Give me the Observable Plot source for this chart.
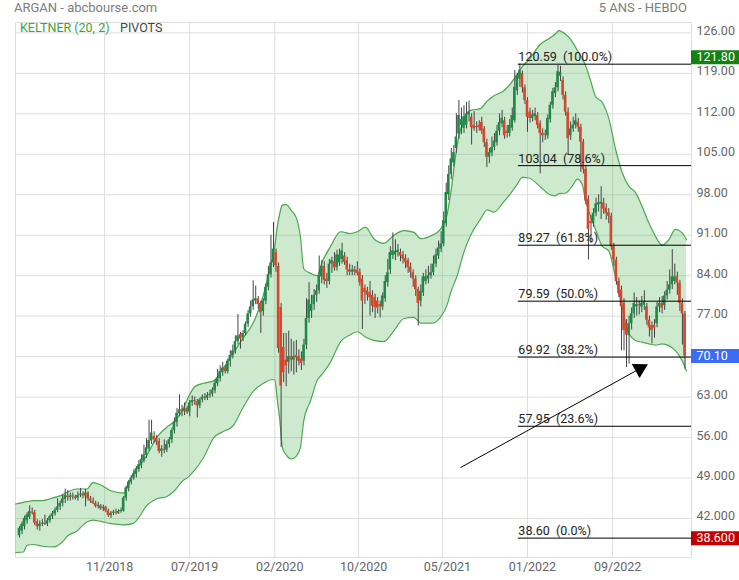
<!DOCTYPE html>
<html><head><meta charset="utf-8">
<script src="https://cdn.jsdelivr.net/npm/d3@7"></script>
<script src="https://cdn.jsdelivr.net/npm/@observablehq/plot@0.6"></script>
<style>
body{margin:0;background:#fff;font-family:Roboto,sans-serif;}
#wrap{position:relative;width:739px;height:580px;overflow:hidden;}
#chart{position:absolute;left:0;top:0;}
.t{position:absolute;white-space:nowrap;font-family:Roboto,sans-serif;}
</style></head><body>
<div id="wrap">
<div id="chart"></div>
<div class="t" style="left:14px;top:0px;font-size:13px;line-height:16px;color:#7d7d7d;">ARGAN - abcbourse.com</div>
<div class="t" style="right:52px;top:0px;font-size:13px;line-height:16px;color:#7d7d7d;">5 ANS - HEBDO</div>
<div class="t" style="left:20px;top:21px;font-size:12.5px;line-height:14px;color:#3aa53a;">KELTNER (20, 2)</div>
<div class="t" style="left:120px;top:21px;font-size:12.5px;line-height:14px;color:#444;">PIVOTS</div>
</div>
<script>
// weekly candles, index 0..262
const open = [
39.0,39.8,40.6,41.6,42.2,43.0,43.0,41.4,40.6,41.0,
41.2,41.0,41.6,42.3,42.8,43.4,44.0,44.6,45.3,45.9,
45.6,45.9,45.7,45.5,46.0,46.2,45.9,46.4,45.4,45.0,
44.6,44.1,44.2,43.7,43.9,43.3,42.5,42.9,43.1,42.9,
43.2,43.3,45.5,47.2,48.3,49.0,49.6,50.5,51.2,52.0,
52.9,54.0,55.4,56.2,55.8,55.3,53.6,54.0,53.8,54.8,
55.6,57.2,58.6,60.1,60.8,60.5,61.0,60.4,62.0,62.4,
62.2,61.5,62.5,62.9,62.8,63.3,63.5,64.1,65.3,66.2,
67.3,68.0,67.4,69.2,70.2,71.0,72.6,73.8,73.2,74.0,
75.6,77.4,78.6,79.6,80.0,79.2,77.8,79.6,82.0,84.2,
86.2,88.0,85.6,78.5,71.6,69.4,69.0,70.0,69.4,70.2,
70.0,69.6,69.2,72.0,76.6,77.8,79.0,80.6,81.4,83.8,
85.6,83.4,83.0,86.0,86.4,85.4,86.2,86.8,87.4,86.6,
85.0,84.6,85.0,85.0,84.6,83.4,81.8,81.4,81.1,80.6,
80.2,79.6,79.0,78.6,80.0,82.8,85.0,87.5,87.6,88.0,
88.0,87.6,87.0,86.6,85.5,84.5,83.4,81.6,79.6,81.0,
83.0,83.4,84.0,84.5,86.0,87.4,88.6,89.5,93.0,98.0,
101.5,103.5,106.0,108.5,110.0,109.5,110.0,111.8,111.4,110.0,
109.8,110.0,110.5,109.4,107.0,104.5,105.2,106.2,107.0,109.0,
110.3,110.8,109.0,108.6,109.5,110.8,116.0,118.0,119.0,116.5,
114.3,112.3,111.2,111.5,111.7,110.3,108.6,108.5,108.2,111.0,
113.5,115.5,116.5,118.5,117.8,115.2,112.3,108.2,109.4,110.0,
110.5,109.7,107.1,102.4,97.2,93.4,93.0,94.8,96.2,96.4,
96.6,95.7,94.9,94.3,89.0,86.7,83.0,81.5,79.2,75.7,
73.7,75.7,77.4,78.6,79.0,78.6,78.9,78.6,76.3,75.4,
75.4,75.7,78.6,79.2,78.8,80.5,81.5,82.4,83.0,83.8,
82.7,79.2,77.4];
const high = [
40.6,41.4,42.4,43.0,44.2,43.8,43.4,41.8,41.6,41.8,
42.6,42.0,42.6,43.2,43.8,45.4,45.0,46.0,47.1,46.8,
46.4,46.4,46.0,46.6,47.2,46.6,47.0,46.6,45.8,45.6,
45.0,44.8,44.4,44.3,44.1,43.6,43.2,43.4,43.6,43.5,
43.8,45.8,47.6,48.6,49.4,50.4,51.0,52.0,53.0,54.7,
55.8,59.0,59.0,57.0,56.4,55.8,54.6,55.6,55.4,56.0,
57.6,59.4,61.0,63.4,61.6,62.0,61.4,62.4,63.2,63.0,
62.6,62.8,63.4,63.6,63.8,64.2,64.6,66.0,67.8,68.4,
69.0,68.4,69.6,71.0,72.0,73.6,77.3,74.2,74.5,76.0,
78.0,79.6,83.1,82.2,80.4,79.6,80.0,82.6,85.6,91.0,
93.2,88.6,86.2,79.2,74.0,74.0,74.4,73.0,72.6,72.8,
71.2,70.8,73.0,80.0,82.8,80.6,81.6,82.4,87.4,86.6,
86.4,84.4,86.8,87.2,88.0,88.4,88.6,89.6,88.0,87.2,
86.0,85.8,85.6,86.4,85.2,84.0,82.4,82.0,83.0,81.4,
80.8,80.2,79.6,81.0,84.0,86.8,89.0,91.4,90.2,89.4,
88.6,88.2,87.6,87.0,86.2,85.0,84.0,82.0,82.4,84.4,
85.0,85.6,86.0,87.4,88.6,90.0,91.6,95.0,100.0,103.0,
106.0,106.5,112.0,114.3,113.0,113.4,114.0,114.2,112.0,112.4,
110.6,110.8,111.4,109.8,107.6,106.0,108.0,108.6,110.0,112.0,
112.6,111.4,110.0,111.0,113.0,119.5,119.0,120.59,119.4,117.0,
114.8,113.0,112.6,113.0,112.2,110.8,109.4,109.2,111.8,114.0,
116.4,117.4,120.4,120.2,118.4,115.8,113.0,110.6,111.4,112.0,
111.2,110.2,107.6,103.0,97.8,94.4,95.6,97.4,98.0,99.4,
97.4,96.4,95.6,94.8,89.6,87.2,83.6,82.2,80.0,76.4,
77.0,78.4,81.0,80.2,79.6,80.4,81.4,79.2,77.0,76.0,
76.4,79.4,80.2,80.4,81.2,83.0,85.0,88.5,86.0,84.6,
83.2,80.0,77.8];
const low = [
38.6,39.2,40.0,41.0,41.8,42.6,40.8,40.0,39.8,40.6,
40.8,40.6,41.2,41.8,42.4,43.0,43.4,44.0,44.6,45.0,
45.0,45.2,45.2,45.0,45.6,45.4,44.0,45.0,44.6,44.4,
43.8,43.6,43.4,43.2,43.0,42.2,42.0,42.5,42.6,42.7,
42.9,43.1,45.0,46.6,47.8,48.6,49.0,50.0,50.6,51.6,
52.4,53.6,54.8,55.0,54.6,53.2,52.6,53.2,53.4,54.2,
55.0,56.6,57.8,59.6,59.6,59.8,60.0,59.6,61.4,61.6,
59.4,61.0,62.0,62.4,62.4,62.8,63.0,63.6,64.8,65.6,
66.6,67.0,67.0,68.2,69.6,70.4,72.0,71.3,72.6,73.6,
75.0,76.8,78.0,79.0,78.2,74.0,77.0,79.0,81.4,83.6,
85.4,84.6,70.6,54.3,65.5,64.8,67.0,67.4,66.8,67.2,
68.4,67.6,68.4,71.2,75.8,76.6,78.0,79.4,80.8,82.6,
82.4,81.8,82.4,84.4,84.8,84.8,85.6,86.0,85.8,84.0,
84.0,84.0,84.0,84.0,82.2,74.7,79.0,79.6,77.0,77.6,
76.6,77.4,76.7,78.0,79.4,82.0,84.2,86.8,86.6,87.2,
86.4,86.0,85.2,84.4,83.6,82.0,80.4,75.3,78.6,80.4,
82.4,82.6,83.4,84.0,85.4,86.8,88.0,89.0,92.4,97.0,
100.6,102.8,105.2,107.6,108.4,108.6,109.4,110.6,106.6,109.0,
108.6,109.0,108.4,106.2,102.7,103.4,104.6,105.6,106.4,108.2,
109.6,107.6,107.8,108.0,109.0,110.4,115.2,116.6,115.6,113.6,
108.8,110.4,110.6,110.8,109.4,101.6,107.0,107.4,107.6,110.4,
112.8,114.8,115.8,117.6,114.4,111.6,104.8,107.4,108.8,109.4,
108.8,101.9,101.6,96.2,86.7,89.6,92.4,94.2,95.0,93.7,
94.6,93.6,93.0,88.4,85.6,82.4,80.2,71.0,71.0,68.1,
68.7,74.6,76.6,77.0,77.2,77.6,78.0,75.4,73.4,72.2,
73.2,75.0,77.6,77.4,78.0,79.8,80.8,81.6,82.4,80.6,
77.8,72.0,67.8];
const close = [
40.3,41.0,42.0,42.6,43.2,42.9,41.2,40.6,41.0,41.2,
41.0,41.6,42.3,42.8,43.4,44.0,44.6,45.4,46.0,45.6,
45.9,45.7,45.5,46.0,46.2,45.9,46.4,45.4,45.0,44.6,
44.1,44.2,43.7,43.9,43.3,42.5,42.9,43.1,42.9,43.2,
43.3,45.5,47.3,48.3,49.0,49.7,50.6,51.3,52.2,53.0,
54.2,55.5,56.8,55.6,55.2,53.6,54.0,53.8,54.8,55.6,
57.2,58.7,60.2,60.8,60.5,61.0,60.4,62.0,62.4,62.2,
61.5,62.5,63.0,62.8,63.3,63.5,64.2,65.4,66.3,67.4,
68.0,67.4,69.2,70.2,71.0,72.6,73.6,73.0,74.0,75.6,
77.4,78.6,79.8,80.0,79.0,77.6,79.6,82.0,84.2,86.2,
88.6,85.7,71.4,64.9,67.2,68.4,70.0,69.4,70.0,69.8,
69.2,68.8,72.0,76.6,79.8,79.0,80.6,81.4,84.0,85.6,
83.2,83.0,86.0,86.6,85.4,87.6,87.6,88.3,86.3,85.0,
84.6,85.0,84.6,84.4,82.8,79.6,81.1,80.6,80.2,78.7,
78.5,78.4,78.6,80.5,83.0,84.5,88.0,88.3,88.2,88.4,
87.4,86.9,86.3,85.4,84.6,83.4,81.6,79.2,81.3,83.8,
83.8,84.0,84.5,86.0,87.6,88.8,89.5,93.5,98.4,101.5,
104.2,105.3,108.0,111.7,111.0,111.5,112.0,112.3,109.6,109.4,
109.6,109.6,109.0,107.0,104.5,105.3,106.2,107.3,109.0,110.5,
111.2,108.2,108.6,110.0,111.7,116.6,118.5,119.5,116.5,114.3,
111.4,111.2,111.8,112.0,110.0,108.6,108.2,108.3,111.2,113.5,
115.8,116.5,119.3,119.2,115.2,112.3,107.7,109.4,110.0,110.8,
109.7,107.1,102.4,96.9,92.0,93.0,94.8,96.4,96.6,96.7,
95.5,94.8,94.3,89.0,86.7,83.0,80.9,78.6,74.5,73.7,
75.7,77.4,79.2,79.0,78.8,79.2,79.4,76.3,75.0,74.5,
74.9,78.6,79.2,78.4,80.5,81.5,82.4,83.8,83.8,82.7,
79.2,77.4,70.1];

// Keltner (20, 2) channel, read at bar positions
const bandIdx = [-1.5,1.5,3,5.5,9,13.5,16.5,19,22.5,26.5,29,32,36,41,44.5,47,50,54,58,61,64,66.5,69,72.5,76.5,80,84,88,92,96.5,99,100.5,101.5,102.5,103.5,105,107,109,110.6,111.9,114.6,117.2,119.2,122.4,126.4,130.3,133,136.2,139.5,143.4,147.4,151.3,155.3,157.9,162.5,165.7,168.4,169.7,172.3,174.9,177.6,181.5,184.1,186.7,190.7,193.3,195.9,198,200.5,205,208.4,211,212.3,214.9,217.6,219.6,221.5,222.8,224.8,226.8,229.4,232,234.6,237.3,239.9,242.5,245.1,247.8,250.4,253,255.6,258.3,260.9,262.6];
const bandUpper = [44.5,44.8,44.9,45.1,45.1,45.6,46.0,46.6,47.1,47.1,48.2,47.8,46.8,46.4,49.5,51.0,52.8,56.0,57.8,58.8,60.6,63.0,64.8,65.4,65.8,67.8,70.5,73.2,75.8,81.4,86.0,89.0,92.5,94.8,96.2,96.3,95.3,94.0,90.7,85.2,84.4,84.0,86.4,89.0,91.6,91.3,91.6,92.4,90.4,89.6,91.0,91.8,91.5,90.4,91.0,92.0,94.7,98.0,106.5,111.0,112.6,112.9,114.2,115.1,116.0,117.2,118.8,120.2,121.3,124.0,125.0,125.8,126.4,125.8,124.5,123.0,121.6,120.4,117.8,115.0,114.0,111.2,106.0,101.8,99.5,98.4,96.0,93.1,90.8,89.3,90.2,92.0,91.4,90.2];
const bandLower = [36.1,36.2,37.4,37.5,37.2,37.1,37.8,39.0,39.8,41.4,41.7,41.5,41.1,40.9,41.1,42.2,44.2,45.4,45.8,46.8,48.4,49.2,50.4,52.6,56.0,57.0,58.0,61.2,64.0,65.5,66.0,66.0,62.5,58.9,54.3,53.0,52.3,52.8,54.3,58.9,62.4,65.9,67.0,69.0,72.6,73.8,74.3,73.4,72.8,72.6,74.5,76.6,76.8,75.8,75.8,76.8,79.0,81.0,84.0,88.0,91.0,93.8,95.4,95.0,96.8,98.2,99.8,101.0,100.9,99.4,98.1,97.8,98.2,98.3,99.5,100.7,99.8,97.2,94.3,92.0,89.1,88.3,83.8,78.6,74.0,72.8,72.5,72.2,72.0,72.2,71.9,71.0,69.3,67.5];

// axes
const yTicks = [126,119,112,105,98,91,84,77,70,63,56,49,42];
const yTickLabels = ["126.00","119.00","112.00","105.00","98.00","91.00","84.00","77.00","70.00","63.00","56.00","49.000","42.000"];
const xTicks = [33.5,67,100.5,133.5,166.5,200,233.5];
const xTickLabels = ["11/2018","07/2019","02/2020","10/2020","05/2021","01/2022","09/2022"];

// Fibonacci retracement
const fibLevels = [120.59,103.04,89.27,79.59,69.92,57.95,38.60];
const fibPct = ["100.0%","78.6%","61.8%","50.0%","38.2%","23.6%","0.0%"];
const fibStartBar = 196.4;

// price tags on the right axis
const tagValues = [121.80,70.10,38.60];
const tagTexts = ["121.80","70.10","38.600"];
const tagColors = ["#128212","#3a6cf6","#c00000"];

// arrow annotation (bar index, price)
const arrowFrom = [173.6,50.8];
const arrowTo = [244.2,67.9];

// ---------- build ----------
const bars = open.map((o,i)=>({i,o,h:high[i],l:low[i],c:close[i]}));
const band = bandIdx.map((i,k)=>({i,up:bandUpper[k],lo:bandLower[k]}));
const fib = fibLevels.map((v,k)=>({v,label:v.toFixed(2)+"\u00a0\u00a0("+fibPct[k]+")"}));
const tags = tagValues.map((v,k)=>({v,label:tagTexts[k],color:tagColors[k]}));
const yLab = new Map(yTicks.map((v,k)=>[v,yTickLabels[k]]));
const xLab = new Map(xTicks.map((v,k)=>[v,xTickLabels[k]]));

const W=739,H=580,mL=15,mR=48,mT=22,mB=23;
const xDom=[-1.575,264.57];
const xEdge = xDom[1] + (xDom[1]-xDom[0])*mR/(W-mL-mR);
const GREEN="#1f8a48", RED="#d8452a";
const ang = Math.atan2(-(arrowTo[1]-arrowFrom[1])*5.779, (arrowTo[0]-arrowFrom[0])*2.54)*180/Math.PI;

const chart = Plot.plot({
  width:W, height:H, marginLeft:mL, marginRight:mR, marginTop:mT, marginBottom:mB,
  style:{fontFamily:"Roboto, sans-serif", fontSize:"12.5px", color:"#666", background:"transparent"},
  x:{type:"linear", domain:xDom, label:null},
  y:{type:"linear", domain:[35.25,127.8], label:null},
  marks:[
    Plot.gridY(yTicks,{stroke:"#dedede",strokeOpacity:1}),
    Plot.gridX(xTicks,{stroke:"#dedede",strokeOpacity:1}),
    Plot.frame({stroke:"#dedede"}),
    Plot.areaY(band,{x:"i",y1:"lo",y2:"up",fill:"#4caf50",fillOpacity:0.28,curve:"monotone-x"}),
    Plot.line(band,{x:"i",y:"up",stroke:"#4aa84d",strokeWidth:1.2,curve:"monotone-x"}),
    Plot.line(band,{x:"i",y:"lo",stroke:"#4aa84d",strokeWidth:1.2,curve:"monotone-x"}),
    Plot.ruleX(bars,{x:"i",y1:"l",y2:"h",stroke:"#444",strokeWidth:1}),
    Plot.rect(bars,{x1:d=>d.i-0.5,x2:d=>d.i+0.5,
      y1:d=>Math.min(d.o,d.c), y2:d=>Math.max(Math.max(d.o,d.c),Math.min(d.o,d.c)+0.2),
      fill:d=>d.c>=d.o?GREEN:RED}),
    Plot.ruleY(fib,{y:"v",x1:fibStartBar,x2:xDom[1],stroke:"#000",strokeWidth:1}),
    Plot.text(fib,{x:fibStartBar,y:"v",text:"label",textAnchor:"start",dy:-7,fill:"#222",fontSize:12.5}),
    Plot.link([0],{x1:()=>arrowFrom[0],y1:()=>arrowFrom[1],x2:()=>arrowTo[0],y2:()=>arrowTo[1],stroke:"#000",strokeWidth:1}),
    Plot.dot([0],{x:()=>arrowTo[0],y:()=>arrowTo[1],symbol:"triangle",r:6,fill:"#000",stroke:"none",rotate:90+ang}),
    Plot.axisY(yTicks,{anchor:"right",tickSize:0,tickPadding:5,dy:-2,tickFormat:d=>yLab.get(d),fill:"#666",label:null}),
    Plot.axisX(xTicks,{anchor:"bottom",tickSize:0,tickPadding:5,dx:5,tickFormat:d=>xLab.get(d),fill:"#666",label:null}),
    ...tags.map(t=>Plot.ruleY([t.v],{x1:xDom[1],x2:xEdge,stroke:t.color,strokeWidth:14})),
    Plot.text(tags,{y:"v",frameAnchor:"right",dx:5,textAnchor:"start",text:"label",fill:"#fff",fontSize:12.5})
  ]
});
document.getElementById("chart").appendChild(chart);
</script>
</body></html>
